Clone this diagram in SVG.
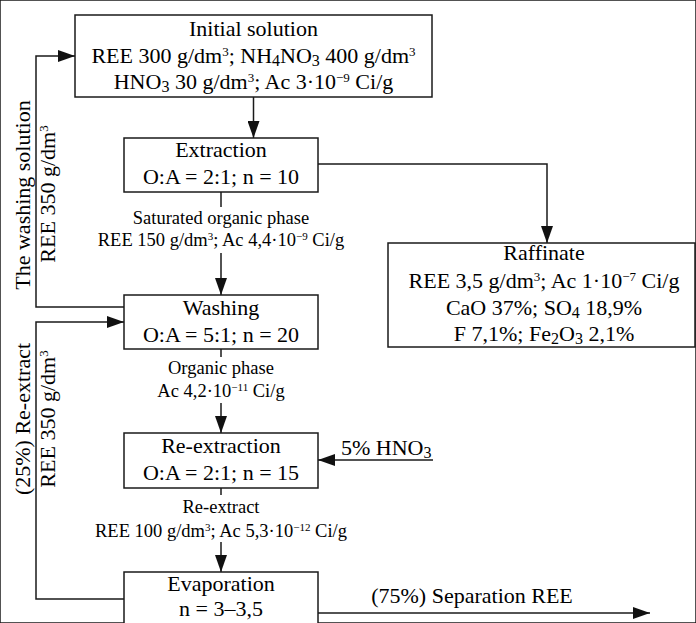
<svg xmlns="http://www.w3.org/2000/svg" width="696" height="623" viewBox="0 0 696 623">
<defs>
<marker id="ah" markerUnits="userSpaceOnUse" markerWidth="17" markerHeight="12" refX="17" refY="6" orient="auto">
<path d="M0,0 L17,6 L0,12 z" fill="#111"/>
</marker>
<style>
text{font-family:'Liberation Serif','Tinos','Times New Roman','DejaVu Serif',serif;fill:#000}
.t{font-size:22px;text-anchor:middle}
.l{font-size:18.5px;text-anchor:middle}
.s{font-size:13px}
.b{font-size:16px}
rect{fill:#fff;stroke:#1a1a1a;stroke-width:1.5}
.c line,.c polyline{fill:none;stroke:#1a1a1a;stroke-width:1.5}
</style>
</defs>
<rect x="0" y="0" width="696" height="623" fill="#fff" stroke="none"/>
<g class="c" id="connectors">
<line x1="253.5" y1="97" x2="253.5" y2="138" marker-end="url(#ah)"/>
<polyline points="318,164 547,164 547,243" marker-end="url(#ah)"/>
<line x1="221" y1="192" x2="221" y2="207"/>
<line x1="221" y1="253" x2="221" y2="295" marker-end="url(#ah)"/>
<polyline points="124,307 36,307 36,56 75,56" marker-end="url(#ah)"/>
<line x1="221" y1="349" x2="221" y2="357"/>
<line x1="221" y1="403" x2="221" y2="433" marker-end="url(#ah)"/>
<polyline points="124,599 36,599 36,322 124,322" marker-end="url(#ah)"/>
<line x1="433" y1="460" x2="318" y2="460" marker-end="url(#ah)"/>
<line x1="221" y1="488" x2="221" y2="495"/>
<line x1="221" y1="542" x2="221" y2="572" marker-end="url(#ah)"/>
<line x1="318" y1="613" x2="650" y2="613" marker-end="url(#ah)"/>
</g>
<g font-family="'Liberation Serif', 'Times New Roman', serif">
<g id="initial">
<rect x="75" y="15" width="357" height="82"/>
<text class="t" x="253.5" y="36">Initial solution</text>
<text class="t" x="253.5" y="63">REE 300 g/dm<tspan class="s" baseline-shift="7">3</tspan>; NH<tspan class="b" baseline-shift="-3">4</tspan>NO<tspan class="b" baseline-shift="-3">3</tspan> 400 g/dm<tspan class="s" baseline-shift="7">3</tspan></text>
<text class="t" x="253.5" y="89">HNO<tspan class="b" baseline-shift="-3">3</tspan> 30 g/dm<tspan class="s" baseline-shift="7">3</tspan>; Ac 3·10<tspan class="s" baseline-shift="7">−9</tspan> Ci/g</text>
</g>
<g id="extraction">
<rect x="124" y="138" width="194" height="54"/>
<text class="t" x="221" y="157">Extraction</text>
<text class="t" x="221" y="184">O:A = 2:1; n = 10</text>
</g>
<g id="raffinate">
<rect x="388" y="243" width="307" height="104"/>
<text class="t" x="544" y="260">Raffinate</text>
<text class="t" x="544" y="288">REE 3,5 g/dm<tspan class="s" baseline-shift="7">3</tspan>; Ac 1·10<tspan class="s" baseline-shift="7">−7</tspan> Ci/g</text>
<text class="t" x="544" y="315">CaO 37%; SO<tspan class="b" baseline-shift="-3">4</tspan> 18,9%</text>
<text class="t" x="544" y="341">F 7,1%; Fe<tspan class="b" baseline-shift="-3">2</tspan>O<tspan class="b" baseline-shift="-3">3</tspan> 2,1%</text>
</g>
<g id="washing">
<rect x="124" y="295" width="194" height="54"/>
<text class="t" x="221" y="315">Washing</text>
<text class="t" x="221" y="342">O:A = 5:1; n = 20</text>
</g>
<g id="reextraction">
<rect x="124" y="433" width="194" height="55"/>
<text class="t" x="221" y="453">Re-extraction</text>
<text class="t" x="221" y="480">O:A = 2:1; n = 15</text>
</g>
<g id="evaporation">
<rect x="124" y="572" width="194" height="60"/>
<text class="t" x="221" y="591">Evaporation</text>
<text class="t" x="221" y="616">n = 3–3,5</text>
</g>
<g id="labels">
<text class="l" x="221" y="224">Saturated organic phase</text>
<text class="l" x="221" y="246">REE 150 g/dm<tspan font-size="11" baseline-shift="6">3</tspan>; Ac 4,4·10<tspan font-size="11" baseline-shift="6">−9</tspan> Ci/g</text>
<text class="l" x="221" y="374">Organic phase</text>
<text class="l" x="221" y="397">Ac 4,2·10<tspan font-size="11" baseline-shift="6">−11</tspan> Ci/g</text>
<text class="l" x="221" y="513">Re-extract</text>
<text class="l" x="221" y="537">REE 100 g/dm<tspan font-size="11" baseline-shift="6">3</tspan>; Ac 5,3·10<tspan font-size="11" baseline-shift="6">−12</tspan> Ci/g</text>
<text x="341" y="455" font-size="22">5% HNO<tspan class="b" baseline-shift="-3">3</tspan></text>
<text class="t" x="472" y="603">(75%) Separation REE</text>
<text class="t" transform="translate(30,195) rotate(-90)">The washing solution</text>
<text class="t" transform="translate(55,194) rotate(-90)">REE 350 g/dm<tspan class="s" baseline-shift="7">3</tspan></text>
<text class="t" transform="translate(30,419) rotate(-90)">(25%) Re-extract</text>
<text class="t" transform="translate(55,419) rotate(-90)">REE 350 g/dm<tspan class="s" baseline-shift="7">3</tspan></text>
</g>
</g>
</svg>
